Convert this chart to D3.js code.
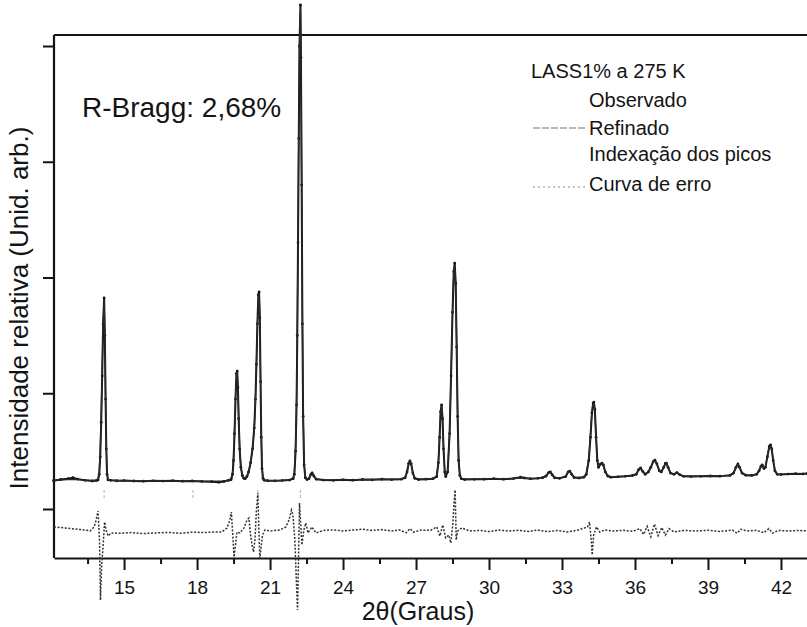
<!DOCTYPE html>
<html><head><meta charset="utf-8">
<script src="https://cdn.jsdelivr.net/npm/d3@7"></script>
<style>html,body{margin:0;background:#fff}svg{display:block}</style>
</head><body><svg id="chart" width="807" height="627"></svg>
<script>
// Difratograma LASS1% a 275 K: perfil observado, refinado e curva de erro (2θ, intensidade)
const observed = [
  [12.10,245],[12.40,255],[12.70,262],[12.90,270],[13.10,258],[13.40,248],[13.70,242],[13.85,246],
  [13.93,250],[13.98,300],[14.02,450],[14.06,750],[14.10,1150],[14.14,1600],[14.18,1823],[14.21,1500],
  [14.24,950],[14.27,520],[14.30,300],[14.34,252],[14.45,248],[14.70,244],[15.00,246],[15.40,242],
  [15.80,240],[16.20,243],[16.60,241],[17.00,244],[17.40,240],[17.80,242],[18.20,238],[18.60,236],
  [18.90,232],[19.10,238],[19.30,248],[19.40,255],[19.46,300],[19.50,420],[19.54,650],[19.58,950],
  [19.62,1170],[19.65,1192],[19.68,1050],[19.71,780],[19.75,520],[19.80,360],[19.86,290],[19.92,265],
  [19.98,262],[20.05,280],[20.12,320],[20.20,400],[20.28,520],[20.35,700],[20.40,950],[20.44,1250],
  [20.48,1600],[20.52,1850],[20.55,1875],[20.58,1650],[20.61,1100],[20.64,620],[20.67,350],[20.71,265],
  [20.76,248],[20.90,245],[21.20,243],[21.50,246],[21.80,250],[21.95,262],[22.00,300],[22.05,500],
  [22.09,900],[22.12,1500],[22.15,2300],[22.18,3200],[22.21,4000],[22.25,4354],[22.27,3900],[22.30,2800],
  [22.33,1600],[22.36,800],[22.40,380],[22.45,270],[22.52,255],[22.60,262],[22.68,300],[22.73,312],
  [22.80,285],[22.90,258],[23.20,250],[23.60,248],[24.00,252],[24.40,249],[24.80,255],[25.20,252],
  [25.60,258],[26.00,254],[26.40,258],[26.55,270],[26.63,320],[26.70,395],[26.75,415],[26.80,390],
  [26.87,310],[26.95,265],[27.10,255],[27.40,258],[27.70,262],[27.85,280],[27.92,400],[27.97,620],
  [28.01,840],[28.05,899],[28.09,780],[28.13,520],[28.18,320],[28.22,280],[28.30,320],[28.38,650],
  [28.44,1150],[28.50,1700],[28.55,2050],[28.59,2125],[28.63,1950],[28.67,1400],[28.71,800],[28.75,420],
  [28.80,290],[28.86,262],[29.00,255],[29.40,256],[29.80,258],[30.20,262],[30.60,258],[31.00,263],
  [31.30,275],[31.45,268],[31.70,262],[32.00,265],[32.20,270],[32.35,285],[32.45,315],[32.52,320],
  [32.60,295],[32.70,270],[32.90,265],[33.15,280],[33.25,320],[33.32,328],[33.40,300],[33.50,272],
  [33.70,268],[33.90,275],[34.00,300],[34.10,420],[34.17,620],[34.23,830],[34.28,915],[34.31,924],
  [34.35,860],[34.40,620],[34.45,420],[34.50,360],[34.57,385],[34.64,397],[34.70,380],[34.78,320],
  [34.88,285],[35.00,275],[35.30,278],[35.60,282],[35.90,290],[36.05,300],[36.15,340],[36.23,354],
  [36.32,325],[36.42,300],[36.55,320],[36.65,360],[36.75,410],[36.82,423],[36.90,390],[37.00,330],
  [37.08,320],[37.18,360],[37.25,395],[37.29,397],[37.36,360],[37.46,310],[37.60,300],[37.72,315],
  [37.85,295],[38.00,282],[38.30,280],[38.70,282],[39.10,285],[39.50,284],[39.90,290],[40.05,310],
  [40.15,360],[40.23,389],[40.30,360],[40.40,310],[40.55,292],[40.80,290],[41.00,300],[41.10,330],
  [41.18,370],[41.23,380],[41.30,350],[41.36,360],[41.44,450],[41.52,540],[41.57,553],[41.62,520],
  [41.68,420],[41.75,330],[41.85,300],[42.00,298],[42.30,302],[42.60,305],[42.90,303],[43.07,306]
];

const refined = [
  [12.10,250],[12.40,252],[12.70,254],[12.90,255],[13.10,254],[13.40,250],[13.70,248],[13.85,250],
  [13.93,262],[13.98,330],[14.02,500],[14.06,800],[14.10,1200],[14.14,1620],[14.18,1800],[14.21,1520],
  [14.24,980],[14.27,540],[14.30,310],[14.34,258],[14.45,250],[14.70,247],[15.00,245],[15.40,244],
  [15.80,243],[16.20,242],[16.60,242],[17.00,241],[17.40,241],[17.80,240],[18.20,240],[18.60,240],
  [18.90,241],[19.10,243],[19.30,250],[19.40,262],[19.46,320],[19.50,450],[19.54,680],[19.58,960],
  [19.62,1160],[19.65,1180],[19.68,1060],[19.71,800],[19.75,540],[19.80,370],[19.86,295],[19.92,268],
  [19.98,265],[20.05,282],[20.12,318],[20.20,395],[20.28,515],[20.35,690],[20.40,940],[20.44,1240],
  [20.48,1580],[20.52,1830],[20.55,1860],[20.58,1660],[20.61,1120],[20.64,640],[20.67,360],[20.71,270],
  [20.76,250],[20.90,246],[21.20,246],[21.50,248],[21.80,252],[21.95,270],[22.00,320],[22.05,540],
  [22.09,950],[22.12,1550],[22.15,2350],[22.18,3250],[22.21,3980],[22.25,4320],[22.27,3920],[22.30,2850],
  [22.33,1650],[22.36,830],[22.40,400],[22.45,280],[22.52,258],[22.60,262],[22.68,295],[22.73,305],
  [22.80,282],[22.90,260],[23.20,252],[23.60,252],[24.00,252],[24.40,253],[24.80,254],[25.20,255],
  [25.60,256],[26.00,257],[26.40,260],[26.55,272],[26.63,318],[26.70,390],[26.75,410],[26.80,388],
  [26.87,312],[26.95,268],[27.10,258],[27.40,259],[27.70,264],[27.85,285],[27.92,410],[27.97,630],
  [28.01,830],[28.05,890],[28.09,790],[28.13,530],[28.18,330],[28.22,290],[28.30,330],[28.38,660],
  [28.44,1160],[28.50,1690],[28.55,2030],[28.59,2100],[28.63,1960],[28.67,1420],[28.71,820],[28.75,430],
  [28.80,295],[28.86,265],[29.00,258],[29.40,258],[29.80,259],[30.20,260],[30.60,261],[31.00,262],
  [31.30,268],[31.45,266],[31.70,263],[32.00,265],[32.20,270],[32.35,288],[32.45,312],[32.52,318],
  [32.60,296],[32.70,272],[32.90,266],[33.15,282],[33.25,318],[33.32,325],[33.40,302],[33.50,275],
  [33.70,270],[33.90,278],[34.00,305],[34.10,430],[34.17,640],[34.23,840],[34.28,910],[34.31,915],
  [34.35,850],[34.40,630],[34.45,430],[34.50,365],[34.57,385],[34.64,395],[34.70,378],[34.78,322],
  [34.88,288],[35.00,278],[35.30,280],[35.60,283],[35.90,288],[36.05,302],[36.15,338],[36.23,350],
  [36.32,326],[36.42,305],[36.55,322],[36.65,362],[36.75,408],[36.82,418],[36.90,388],[37.00,332],
  [37.08,322],[37.18,362],[37.25,392],[37.29,394],[37.36,362],[37.46,312],[37.60,302],[37.72,312],
  [37.85,296],[38.00,285],[38.30,283],[38.70,284],[39.10,285],[39.50,287],[39.90,292],[40.05,312],
  [40.15,358],[40.23,385],[40.30,362],[40.40,312],[40.55,294],[40.80,293],[41.00,302],[41.10,332],
  [41.18,368],[41.23,376],[41.30,352],[41.36,365],[41.44,455],[41.52,535],[41.57,548],[41.62,518],
  [41.68,425],[41.75,335],[41.85,302],[42.00,299],[42.30,301],[42.60,303],[42.90,304],[43.07,305]
];

// Curva de erro (observado - refinado), desenhada deslocada abaixo do perfil
const errorCurve = [
  [12.12,35],[12.58,26],[12.99,17],[13.40,9],[13.60,0],[13.77,35],[13.85,95],[13.93,173],[13.99,-78],
  [14.03,-596],[14.08,-294],[14.14,-121],[14.20,78],[14.26,9],[14.34,-43],[14.47,-17],[14.90,-20],
  [15.30,-14],[15.80,-22],[16.30,-17],[16.80,-12],[17.30,-20],[17.80,-10],[18.30,-14],[18.70,-8],
  [19.02,-9],[19.23,26],[19.35,95],[19.41,164],[19.48,-78],[19.52,-225],[19.58,-121],[19.64,-9],
  [19.76,-17],[19.93,26],[20.05,95],[20.13,112],[20.20,-35],[20.26,-121],[20.32,-181],[20.38,-78],
  [20.44,181],[20.50,328],[20.54,9],[20.58,-233],[20.63,-147],[20.69,-35],[20.79,9],[21.00,0],
  [21.41,9],[21.65,35],[21.78,95],[21.88,181],[21.94,138],[22.02,-78],[22.08,-423],[22.13,-683],
  [22.17,-251],[22.21,242],[22.25,95],[22.31,-121],[22.39,9],[22.47,69],[22.56,-17],[22.72,35],
  [22.89,-17],[23.20,5],[23.60,10],[24.00,0],[24.40,8],[24.80,15],[25.20,5],[25.60,12],[26.00,0],
  [26.30,10],[26.60,-15],[26.75,20],[26.90,-10],[27.20,8],[27.60,5],[27.85,35],[27.98,-43],[28.10,52],
  [28.22,-60],[28.35,-35],[28.43,-104],[28.51,52],[28.57,268],[28.61,354],[28.65,-78],[28.71,0],
  [28.88,26],[29.21,0],[29.60,5],[30.00,-5],[30.40,8],[30.80,0],[31.20,6],[31.60,-4],[32.00,8],
  [32.40,-6],[32.80,4],[33.20,-8],[33.60,5],[34.05,35],[34.13,78],[34.20,-78],[34.24,-207],[34.30,-35],
  [34.42,35],[34.55,-9],[34.75,9],[35.10,0],[35.50,6],[35.90,-3],[36.20,20],[36.35,-30],[36.50,40],
  [36.65,-50],[36.80,60],[36.95,-40],[37.10,30],[37.25,-35],[37.40,20],[37.60,-8],[38.00,5],[38.50,0],
  [39.00,6],[39.50,-4],[40.00,8],[40.20,-20],[40.35,15],[40.60,0],[41.00,6],[41.30,-15],[41.50,20],
  [41.65,-18],[41.90,5],[42.30,0],[42.70,4],[43.07,2]
];

const braggPositions = [14.18, 17.83, 20.50, 22.25, 28.59];
const majorTicks = [15, 18, 21, 24, 27, 30, 33, 36, 39, 42];
const minorTicks = [13.5, 16.5, 19.5, 22.5, 25.5, 28.5, 31.5, 34.5, 37.5, 40.5];
const intensityTicks = [0, 1000, 2000, 3000, 4000];
const sampleLabel = "LASS1% a 275 K";
const legendLabels = ["Observado", "Refinado", "Indexação dos picos", "Curva de erro"];
const rBraggLabel = "R-Bragg: 2,68%";
const xTitle = "2θ(Graus)";
const yTitle = "Intensidade relativa (Unid. arb.)";

const errorOffset = -190;
const font = "'Liberation Sans', Arial, sans-serif";
const ink = "#141414";

const svg = d3.select("#chart");
const plotLeft = 54, plotRight = 807, plotTop = 35, plotBottom = 558;

const x = d3.scaleLinear().domain([12.12, 43.07]).range([plotLeft, plotRight]);
const y = d3.scaleLinear().domain([0, 4000]).range([509, 46]);

// Moldura: eixo esquerdo e linha superior
svg.append("line").attr("x1", plotLeft).attr("x2", plotLeft).attr("y1", plotTop).attr("y2", plotBottom)
  .attr("stroke", ink).attr("stroke-width", 2.2);
svg.append("line").attr("x1", plotLeft).attr("x2", plotRight).attr("y1", plotTop).attr("y2", plotTop)
  .attr("stroke", ink).attr("stroke-width", 1.8);

// Eixo x: marcas principais, secundárias e rótulos
const xAxis = svg.append("g").attr("transform", `translate(0,${plotBottom})`)
  .call(d3.axisBottom(x).tickValues(majorTicks).tickSize(12).tickSizeOuter(0).tickPadding(11));
xAxis.select(".domain").attr("stroke", ink).attr("stroke-width", 2.2);
xAxis.selectAll(".tick line").attr("stroke", ink).attr("stroke-width", 2);
xAxis.selectAll(".tick text").attr("font-family", font).attr("font-size", 19).attr("fill", ink);

const xMinor = svg.append("g").attr("transform", `translate(0,${plotBottom})`)
  .call(d3.axisBottom(x).tickValues(minorTicks).tickSize(6).tickSizeOuter(0).tickFormat(""));
xMinor.select(".domain").remove();
xMinor.selectAll(".tick line").attr("stroke", ink).attr("stroke-width", 2);

// Eixo y sem rótulos numéricos
const yAxis = svg.append("g").attr("transform", `translate(${plotLeft},0)`)
  .call(d3.axisLeft(y).tickValues(intensityTicks).tickSize(11).tickSizeOuter(0).tickFormat(""));
yAxis.select(".domain").remove();
yAxis.selectAll(".tick line").attr("stroke", ink).attr("stroke-width", 2);

// Marcas de indexação dos picos
svg.append("g").selectAll("line").data(braggPositions).join("line")
  .attr("x1", d => x(d)).attr("x2", d => x(d))
  .attr("y1", y(165)).attr("y2", y(75))
  .attr("stroke", "#bdbdbd").attr("stroke-width", 1.2).attr("stroke-dasharray", "3,2");

// Curva de erro
const errLine = d3.line().x(d => x(d[0])).y(d => y(d[1] + errorOffset));
svg.append("path").datum(errorCurve).attr("d", errLine)
  .attr("fill", "none").attr("stroke", "#333").attr("stroke-width", 1.5)
  .attr("stroke-dasharray", "2,1.6");

// Perfil observado (linha + pontos) e refinado
const profile = d3.line().x(d => x(d[0])).y(d => y(d[1]));
svg.append("path").datum(observed).attr("d", profile)
  .attr("fill", "none").attr("stroke", ink).attr("stroke-width", 2).attr("stroke-linejoin", "round");
svg.append("g").selectAll("circle").data(observed).join("circle")
  .attr("cx", d => x(d[0])).attr("cy", d => y(d[1])).attr("r", 1.4)
  .attr("fill", ink).attr("stroke", "none");
svg.append("path").datum(refined).attr("d", profile)
  .attr("fill", "none").attr("stroke", "#2a2a2a").attr("stroke-width", 1.3).attr("stroke-linejoin", "round");

// Textos
svg.append("text").attr("x", 82).attr("y", 117).attr("font-family", font)
  .attr("font-size", 28).attr("fill", ink).text(rBraggLabel);

svg.append("text").attr("transform", "translate(28,308) rotate(-90)")
  .attr("text-anchor", "middle").attr("font-family", font).attr("font-size", 26)
  .attr("fill", ink).text(yTitle);

svg.append("text").attr("x", 418).attr("y", 620).attr("text-anchor", "middle")
  .attr("font-family", font).attr("font-size", 25).attr("fill", ink).text(xTitle);

// Legenda
const legend = svg.append("g").attr("font-family", font).attr("font-size", 20).attr("fill", ink);
legend.append("text").attr("x", 531).attr("y", 78).text(sampleLabel);
const legendY = [107, 135, 161, 191];
legend.selectAll("text.item").data(legendLabels).join("text").attr("class", "item")
  .attr("x", 589).attr("y", (d, i) => legendY[i]).text(d => d);
legend.append("line").attr("x1", 533).attr("x2", 585).attr("y1", 128).attr("y2", 128)
  .attr("stroke", "#777").attr("stroke-width", 1.2).attr("stroke-dasharray", "7,2");
legend.append("line").attr("x1", 533).attr("x2", 585).attr("y1", 187).attr("y2", 187)
  .attr("stroke", "#888").attr("stroke-width", 1.2).attr("stroke-dasharray", "2,3");
</script>
</body></html>
